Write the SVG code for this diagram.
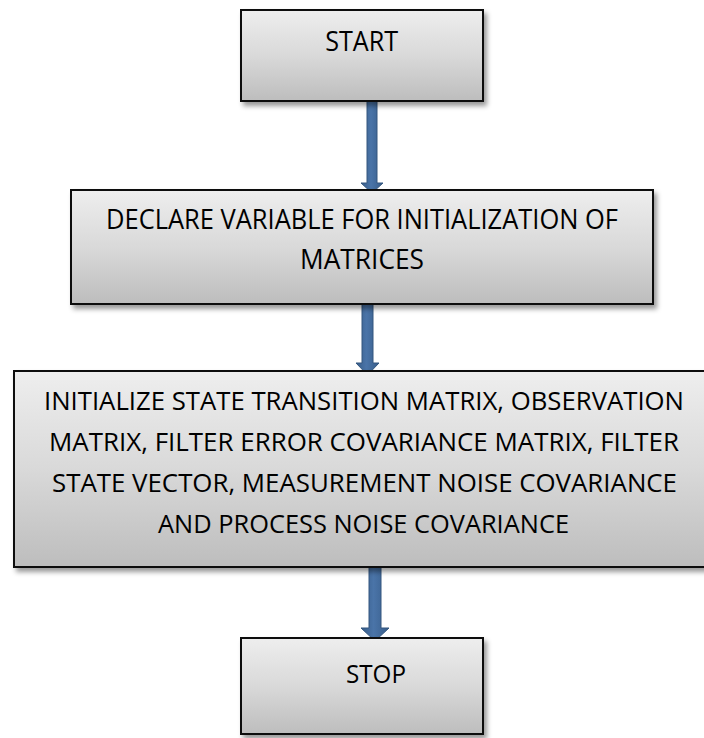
<svg xmlns="http://www.w3.org/2000/svg" width="704" height="738" viewBox="0 0 704 738">
  <defs>
    <linearGradient id="boxFill" x1="0" y1="0" x2="0" y2="1">
      <stop offset="0" stop-color="#eeeeee"/>
      <stop offset="0.5" stop-color="#d9d9d9"/>
      <stop offset="1" stop-color="#bdbdbd"/>
    </linearGradient>
    <linearGradient id="arrowFill" x1="0" y1="0" x2="1" y2="0">
      <stop offset="0" stop-color="#385d8a"/>
      <stop offset="0.45" stop-color="#4a74a8"/>
      <stop offset="1" stop-color="#385d8a"/>
    </linearGradient>
    <filter id="shadow" x="-5%" y="-10%" width="115%" height="130%">
      <feDropShadow dx="3" dy="4" stdDeviation="2.5" flood-color="#000" flood-opacity="0.4"/>
    </filter>
  </defs>
  <style>
    .box { fill: url(#boxFill); stroke: #111; stroke-width: 2; filter: url(#shadow); }
    .lbl { font-family: "Open Sans", "Noto Sans", sans-serif; fill: #000; text-anchor: middle; }
    .big { font-size: 27px; }
    .small { font-size: 25.5px; }
    .arrow { fill: url(#arrowFill); stroke: #34577f; stroke-width: 1; }
  </style>

  <rect width="704" height="738" fill="#ffffff"/>

  <!-- connectors: block arrows between steps -->
  <g id="connectors">
    <polygon class="arrow" points="367,100 377,100 377,183 383,183 372,193 361,183 367,183"/>
    <polygon class="arrow" points="362,302 373,302 373,363 379,363 367.5,375 356,363 362,363"/>
    <polygon class="arrow" points="369,566 381,566 381,628 389,628 375,641 361,628 369,628"/>
  </g>

  <g id="start">
    <rect class="box" x="241" y="10" width="242" height="91"/>
    <text class="lbl big" x="361.7" y="51" textLength="73" lengthAdjust="spacingAndGlyphs">START</text>
  </g>

  <g id="declare">
    <rect class="box" x="71" y="190" width="582" height="114"/>
    <text class="lbl big" x="362" y="229" textLength="512" lengthAdjust="spacingAndGlyphs">DECLARE VARIABLE FOR INITIALIZATION OF</text>
    <text class="lbl big" x="362" y="269" textLength="124" lengthAdjust="spacingAndGlyphs">MATRICES</text>
  </g>

  <g id="initialize">
    <rect class="box" x="14" y="371" width="700" height="196"/>
    <text class="lbl small" x="364" y="410" textLength="640" lengthAdjust="spacingAndGlyphs">INITIALIZE STATE TRANSITION MATRIX, OBSERVATION</text>
    <text class="lbl small" x="364" y="451" textLength="630" lengthAdjust="spacingAndGlyphs">MATRIX, FILTER ERROR COVARIANCE MATRIX, FILTER</text>
    <text class="lbl small" x="364.5" y="491.5" textLength="625" lengthAdjust="spacingAndGlyphs">STATE VECTOR, MEASUREMENT NOISE COVARIANCE</text>
    <text class="lbl small" x="363.5" y="533" textLength="411" lengthAdjust="spacingAndGlyphs">AND PROCESS NOISE COVARIANCE</text>
  </g>

  <g id="stop">
    <rect class="box" x="241" y="638" width="242" height="96"/>
    <text class="lbl small" x="376" y="683" textLength="60" lengthAdjust="spacingAndGlyphs">STOP</text>
  </g>
</svg>
